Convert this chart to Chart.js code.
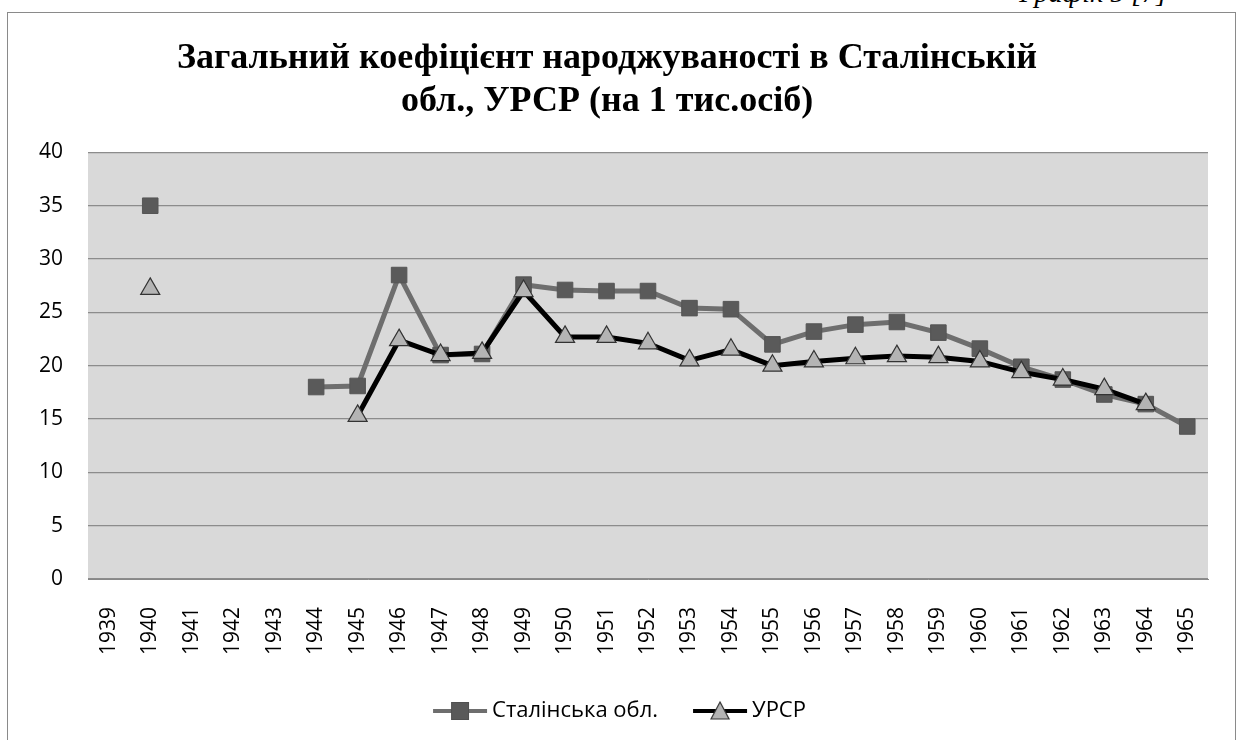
<!DOCTYPE html>
<html><head><meta charset="utf-8">
<script src="https://cdn.jsdelivr.net/npm/chart.js@4.4.0/dist/chart.umd.min.js"></script>
<style>
html,body{margin:0;padding:0;background:#fff;}
#wrap{position:relative;width:1237px;height:740px;overflow:hidden;}
#frame{position:absolute;left:7px;top:12px;width:1229px;height:740px;border:1px solid #8a8a8a;box-sizing:border-box;}
#cap{position:absolute;right:70px;top:-21px;line-height:28px;font-family:"Liberation Serif",serif;font-style:italic;font-size:28px;color:#000;white-space:nowrap;}
canvas{position:absolute;left:0;top:0;}
</style></head>
<body><div id="wrap"><div id="frame"></div><div id="cap">Графік 5 [7]</div><canvas id="c" width="1237" height="740"></canvas></div>
<script>
const years = ['1939','1940','1941','1942','1943','1944','1945','1946','1947','1948','1949','1950','1951','1952','1953','1954','1955','1956','1957','1958','1959','1960','1961','1962','1963','1964','1965'];
const stalinska = [null,35.0,null,null,null,18.0,18.1,28.5,21.0,21.1,27.6,27.1,27.0,27.0,25.4,25.3,22.0,23.2,23.85,24.1,23.1,21.6,19.9,18.7,17.3,16.4,14.3];
const ursr = [null,27.2,null,null,null,null,15.3,22.4,21.0,21.2,27.0,22.7,22.7,22.1,20.5,21.5,20.0,20.4,20.7,20.9,20.8,20.4,19.4,18.7,17.8,16.4,null];
const yTicks = [0,5,10,15,20,25,30,35,40];
const seriesNames = ['Сталінська обл.','УРСР'];

const L = 31;
function legendIcon(kind){
  const c=document.createElement('canvas'); c.width=56+L; c.height=22;
  const g=c.getContext('2d');
  g.translate(L,0);
  g.lineWidth=4; g.strokeStyle = kind==='sq' ? '#6e6e6e' : '#000';
  g.beginPath(); g.moveTo(1,11); g.lineTo(55,11); g.stroke();
  if(kind==='sq'){ g.fillStyle='#595959'; g.fillRect(19,2,18,18); g.strokeStyle='#505050'; g.lineWidth=1; g.strokeRect(19.5,2.5,17,17);}
  else { g.fillStyle='#b4b4b4'; g.strokeStyle='#333'; g.lineWidth=1.2; g.beginPath(); g.moveTo(28,2); g.lineTo(37,19); g.lineTo(19,19); g.closePath(); g.fill(); g.stroke(); }
  return c;
}
const icons=[legendIcon('sq'),legendIcon('tri')];

const bgPlugin={id:'bg',beforeDraw(ch){const a=ch.chartArea,x=ch.ctx;x.save();x.fillStyle='#d9d9d9';x.fillRect(a.left,a.top,a.right-a.left,a.bottom-a.top);x.restore();}};

new Chart(document.getElementById('c'),{
  type:'line',
  data:{labels:years,datasets:[
    {label:seriesNames[0],data:stalinska,borderColor:'#6e6e6e',borderWidth:5,backgroundColor:'#595959',pointStyle:'rect',pointRadius:11,pointBorderColor:'#555',pointBorderWidth:1,pointBackgroundColor:'#5a5a5a',spanGaps:false,tension:0,order:2},
    {label:seriesNames[1],data:ursr,borderColor:'#000',borderWidth:5,backgroundColor:'#b4b4b4',pointStyle:'triangle',pointRadius:11,pointBorderColor:'#333',pointBorderWidth:1.2,pointBackgroundColor:'#b4b4b4',spanGaps:false,tension:0,order:1}
  ]},
  options:{
    responsive:false,animation:false,
    layout:{padding:{left:6,right:29,top:0,bottom:8}},
    plugins:{
      title:{display:true,text:['Загальний коефіцієнт народжуваності в Сталінській','обл., УРСР (на 1 тис.осіб)'],font:{family:'"Liberation Serif", serif',size:36,weight:'bold'},color:'#000',lineHeight:1.25,padding:{top:37,bottom:29}},
      legend:{position:'bottom',labels:{usePointStyle:true,pointStyleWidth:42+L,font:{family:'"Open Sans", sans-serif',size:22},color:'#000',boxHeight:22,padding:10,
        generateLabels(ch){return ch.data.datasets.map((d,i)=>({text:d.label,pointStyle:icons[i],datasetIndex:i,fontColor:'#000',lineWidth:0,strokeStyle:'transparent',fillStyle:'transparent'}));}}},
      tooltip:{enabled:false}
    },
    scales:{
      x:{offset:true,grid:{display:false,offset:true},border:{display:true,color:'#888',width:1},
        ticks:{maxRotation:90,minRotation:90,autoSkip:false,font:{family:'"Open Sans", sans-serif',size:21},color:'#000',padding:20},
        afterFit(s){s.height=111;}},
      y:{min:0,max:40,afterBuildTicks(s){s.ticks=yTicks.map(v=>({value:v}));},
        grid:{color:'#8c8c8c',lineWidth:1.2,drawTicks:false},border:{display:false},
        ticks:{font:{family:'"Open Sans", sans-serif',size:21},color:'#000',padding:25},
        afterFit(s){s.width=82;}}
    }
  },
  plugins:[bgPlugin]
});
</script></body></html>
